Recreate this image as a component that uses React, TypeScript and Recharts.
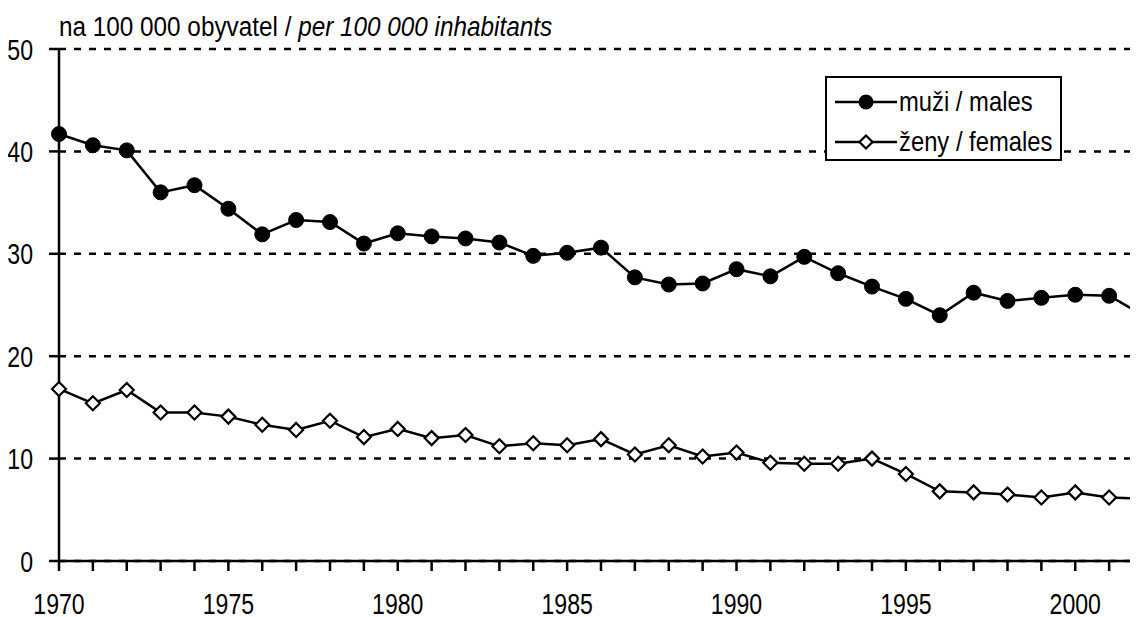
import { LineChart, Line, XAxis, YAxis, CartesianGrid } from 'recharts';

const FONT = "'Liberation Sans', Arial, sans-serif";

const years = [
  1970, 1971, 1972, 1973, 1974, 1975, 1976, 1977, 1978, 1979, 1980,
  1981, 1982, 1983, 1984, 1985, 1986, 1987, 1988, 1989, 1990, 1991,
  1992, 1993, 1994, 1995, 1996, 1997, 1998, 1999, 2000, 2001, 2002,
];

const males = [
  41.7, 40.6, 40.1, 36.0, 36.7, 34.4, 31.9, 33.3, 33.1, 31.0, 32.0,
  31.7, 31.5, 31.1, 29.8, 30.1, 30.6, 27.7, 27.0, 27.1, 28.5, 27.8,
  29.7, 28.1, 26.8, 25.6, 24.0, 26.2, 25.4, 25.7, 26.0, 25.9, 24.0,
];

const females = [
  16.8, 15.4, 16.7, 14.5, 14.5, 14.1, 13.3, 12.8, 13.7, 12.1, 12.9,
  12.0, 12.3, 11.2, 11.5, 11.3, 11.9, 10.4, 11.3, 10.2, 10.6, 9.6,
  9.5, 9.5, 10.0, 8.5, 6.8, 6.7, 6.5, 6.2, 6.7, 6.2, 6.1,
];

const yTicks = [0, 10, 20, 30, 40, 50];
const labelYears = [1970, 1975, 1980, 1985, 1990, 1995, 2000];

const seriesNames = { males: 'muži / males', females: 'ženy / females' };

const data = years.map((year, i) => ({ year, males: males[i], females: females[i] }));

// narrow look: the reference uses a condensed face, so squeeze a regular one
const XTick = (props: any) => {
  const { x, y, payload } = props;
  if (!labelYears.includes(payload.value)) return <g />;
  return (
    <text
      transform={`translate(${x},${y}) scale(0.77,1)`}
      textAnchor="middle"
      dy="0.71em"
      fontSize={30}
      fontFamily={FONT}
      fill="#000"
    >
      {payload.value}
    </text>
  );
};

const YTick = (props: any) => {
  const { x, y, payload } = props;
  return (
    <text
      transform={`translate(${x},${y}) scale(0.77,1)`}
      textAnchor="end"
      dy="0.355em"
      fontSize={30}
      fontFamily={FONT}
      fill="#000"
    >
      {payload.value}
    </text>
  );
};

const Diamond = (props: any) => {
  const { cx, cy, index } = props;
  if (cx == null || cy == null) return <g key={`d-${index}`} />;
  const s = 7;
  return (
    <path
      key={`d-${index}`}
      d={`M${cx},${cy - s}L${cx + s},${cy}L${cx},${cy + s}L${cx - s},${cy}Z`}
      fill="#fff"
      stroke="#000"
      strokeWidth={2.2}
    />
  );
};

const legendText = {
  display: 'inline-block',
  transform: 'scaleX(0.85)',
  transformOrigin: 'left center',
  whiteSpace: 'nowrap' as const,
};

const LegendBox = () => (
  <div
    style={{
      position: 'absolute',
      left: 817,
      top: 68,
      width: 237,
      height: 85,
      boxSizing: 'border-box',
      border: '2px solid #000',
      background: '#fff',
      fontFamily: FONT,
      fontSize: 28,
      color: '#000',
      paddingTop: 4,
      zIndex: 2,
    }}
  >
    <div style={{ display: 'flex', alignItems: 'center', height: 40 }}>
      <svg width={66} height={20} style={{ marginLeft: 6, flex: 'none' }}>
        <line x1={2} y1={10} x2={64} y2={10} stroke="#000" strokeWidth={2.5} />
        <circle cx={33} cy={10} r={7.5} fill="#000" />
      </svg>
      <span style={legendText}>{seriesNames.males}</span>
    </div>
    <div style={{ display: 'flex', alignItems: 'center', height: 40 }}>
      <svg width={66} height={20} style={{ marginLeft: 6, flex: 'none' }}>
        <line x1={2} y1={10} x2={64} y2={10} stroke="#000" strokeWidth={2.5} />
        <path d="M33,3.5L39.5,10L33,16.5L26.5,10Z" fill="#fff" stroke="#000" strokeWidth={2.2} />
      </svg>
      <span style={legendText}>{seriesNames.females}</span>
    </div>
  </div>
);

export default function App() {
  const axisStroke = { stroke: '#000', strokeWidth: 2.5 };
  return (
    <div style={{ position: 'relative', width: 1130, height: 609, overflow: 'hidden', background: '#fff' }}>
      <div
        style={{
          position: 'absolute',
          left: 51,
          top: 6,
          fontFamily: FONT,
          fontSize: 27,
          lineHeight: '27px',
          color: '#000',
          whiteSpace: 'nowrap',
          transform: 'scaleX(0.9)',
          transformOrigin: 'left center',
          zIndex: 2,
        }}
      >
        na 100 000 obyvatel / <i>per 100 000 inhabitants</i>
      </div>
      <LegendBox />
      <LineChart
        width={1140}
        height={609}
        data={data}
        margin={{ top: 41, right: 5, bottom: 6, left: 0 }}
      >
        <CartesianGrid
          vertical={false}
          stroke="#000"
          strokeWidth={2.5}
          strokeDasharray="7 8"
        />
        <XAxis
          dataKey="year"
          type="number"
          domain={[1970, 2002]}
          ticks={years}
          interval={0}
          height={50}
          tickSize={10}
          tickMargin={22}
          axisLine={axisStroke}
          tickLine={axisStroke}
          tick={<XTick />}
        />
        <YAxis
          type="number"
          domain={[0, 50]}
          ticks={yTicks}
          interval={0}
          width={51}
          tickSize={10}
          tickMargin={16}
          axisLine={axisStroke}
          tickLine={axisStroke}
          tick={<YTick />}
        />
        <Line
          type="linear"
          dataKey="males"
          name={seriesNames.males}
          stroke="#000"
          strokeWidth={2.5}
          dot={{ r: 7.5, fill: '#000', stroke: '#000', strokeWidth: 1 }}
          isAnimationActive={false}
        />
        <Line
          type="linear"
          dataKey="females"
          name={seriesNames.females}
          stroke="#000"
          strokeWidth={2.5}
          dot={Diamond}
          isAnimationActive={false}
        />
      </LineChart>
    </div>
  );
}
